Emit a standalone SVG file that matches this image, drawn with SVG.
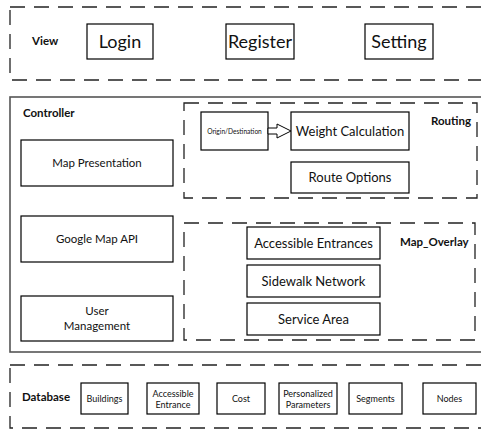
<svg xmlns="http://www.w3.org/2000/svg" width="481" height="431" viewBox="0 0 481 431">
<style>
.bg{fill:#fff}
.box{fill:#fff;stroke:#000;stroke-width:1.2}
.dash{fill:none;stroke:#222;stroke-width:1.3;stroke-dasharray:15 9}
.solid{fill:none;stroke:#555;stroke-width:1.6}
text{font-family:Lato,"Liberation Sans",sans-serif;fill:#111;text-anchor:middle}
.lbl{font-weight:bold;font-size:11.5px;text-anchor:start}
.big{font-size:18px}
.mid{font-size:13px}
.sm{font-size:11.5px}
.xs{font-size:9px}
.xxs{font-size:6.6px}
</style>
<rect class="bg" x="0" y="0" width="481" height="431"/>
<g id="view">
<path class="dash" d="M10,10 V80 H490 M10,7 H490"/>
<text class="lbl" x="32" y="45">View</text>
</g>
<g id="login"><rect class="box" x="87" y="24" width="66" height="35"/><text class="big" x="120" y="48">Login</text></g>
<g id="register"><rect class="box" x="226" y="24" width="68" height="35"/><text class="big" x="260" y="48">Register</text></g>
<g id="setting"><rect class="box" x="365" y="24" width="68" height="35"/><text class="big" x="399" y="48">Setting</text></g>
<g id="controller">
<rect class="solid" x="10" y="97" width="480" height="255"/>
<text class="lbl" x="23" y="117">Controller</text>
</g>
<g id="map-presentation"><rect class="box" x="21" y="140" width="152" height="46"/><text class="sm" x="97" y="167">Map Presentation</text></g>
<g id="google-map-api"><rect class="box" x="21" y="216" width="152" height="46"/><text class="sm" x="97" y="243">Google Map API</text></g>
<g id="user-management"><rect class="box" x="21" y="296" width="152" height="45"/><text class="sm" x="97" y="315">User</text><text class="sm" x="97" y="330">Management</text></g>
<g id="routing">
<path class="dash" d="M184,103 H477 V198 H184 Z"/>
<text class="lbl" x="431" y="125">Routing</text>
</g>
<g id="origin-destination"><rect class="box" x="201" y="112" width="67" height="38"/><text class="xxs" x="234.5" y="133.5">Origin/Destination</text></g>
<g id="weight-calculation"><rect class="box" x="291" y="112" width="118" height="38"/><text class="mid" x="350" y="136">Weight Calculation</text></g>
<g id="route-options"><rect class="box" x="291" y="162" width="118" height="31"/><text class="mid" x="350" y="182">Route Options</text></g>
<g id="map-overlay">
<path class="dash" d="M184,223 H475 V340 H184 Z"/>
<text class="lbl" x="400" y="246">Map_Overlay</text>
</g>
<g id="accessible-entrances"><rect class="box" x="247" y="227" width="133" height="32"/><text class="mid" x="313.5" y="248">Accessible Entrances</text></g>
<g id="sidewalk-network"><rect class="box" x="247" y="265" width="133" height="32"/><text class="mid" x="313.5" y="286">Sidewalk Network</text></g>
<g id="service-area"><rect class="box" x="247" y="303" width="133" height="32"/><text class="mid" x="313.5" y="324">Service Area</text></g>
<g id="database">
<path class="dash" d="M10,368 V428 H490 M10,365 H490"/>
<text class="lbl" x="22" y="401">Database</text>
</g>
<g id="buildings"><rect class="box" x="81" y="383" width="47" height="31"/><text class="xs" x="104.5" y="402">Buildings</text></g>
<g id="accessible-entrance"><rect class="box" x="147" y="383" width="52" height="31"/><text class="xs" x="173" y="396.5">Accessible</text><text class="xs" x="173" y="408">Entrance</text></g>
<g id="cost"><rect class="box" x="217" y="383" width="48" height="31"/><text class="xs" x="241" y="402">Cost</text></g>
<g id="personalized-parameters"><rect class="box" x="279" y="383" width="58" height="31"/><text class="xs" x="308" y="396.5">Personalized</text><text class="xs" x="308" y="408">Parameters</text></g>
<g id="segments"><rect class="box" x="349" y="383" width="53" height="31"/><text class="xs" x="375.5" y="402">Segments</text></g>
<g id="nodes"><rect class="box" x="423" y="383" width="53" height="31"/><text class="xs" x="449.5" y="402">Nodes</text></g>
<g id="connectors">
<path fill="#fff" stroke="#000" stroke-width="1" d="M268,128 H277 V124 L291,131 L277,138 V134 H268 Z"/>
</g>
</svg>
